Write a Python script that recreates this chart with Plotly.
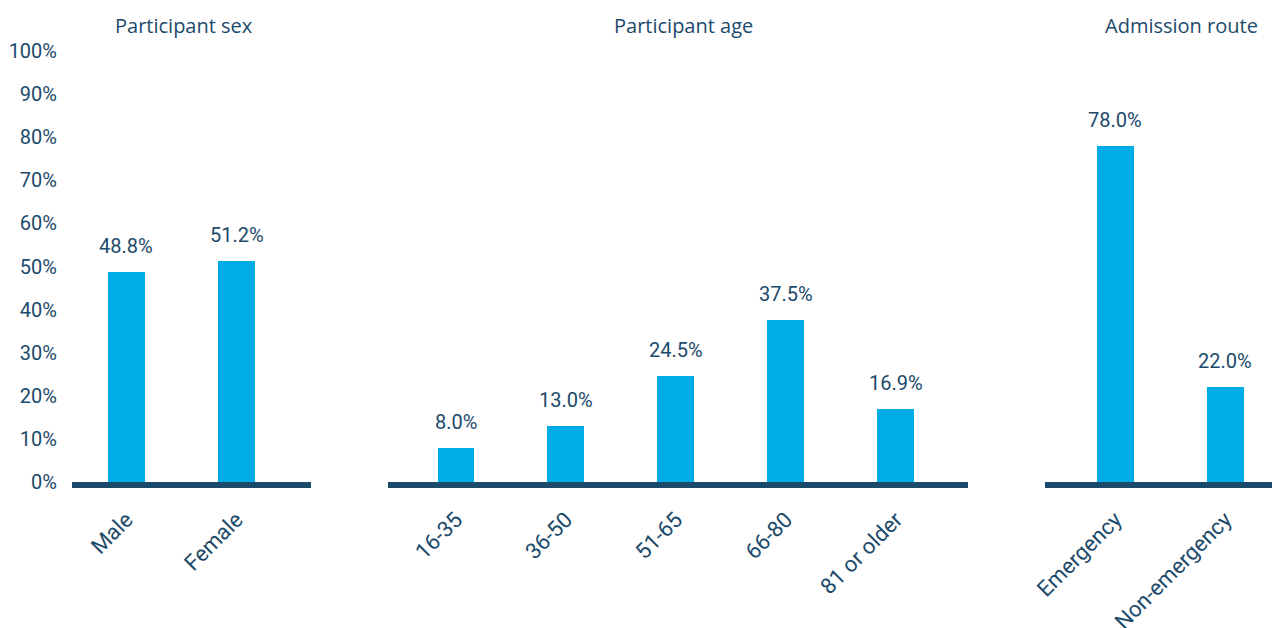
import plotly.graph_objects as go

# ---- data ----
sex_categories = ["Male", "Female"]
sex_values = [48.8, 51.2]

age_categories = ["16-35", "36-50", "51-65", "66-80", "81 or older"]
age_values = [8.0, 13.0, 24.5, 37.5, 16.9]

route_categories = ["Emergency", "Non-emergency"]
route_values = [78.0, 22.0]

panel_titles = ["Participant sex", "Participant age", "Admission route"]
y_tick_values = [0, 10, 20, 30, 40, 50, 60, 70, 80, 90, 100]
y_tick_labels = ["0%", "10%", "20%", "30%", "40%", "50%", "60%", "70%", "80%", "90%", "100%"]

# ---- styles ----
OFF = 8  # page body margin in the browser
W, H = 1280 - OFF, 628 - OFF
BAR = "#00ace6"
DARK = "#1c4a6b"
NUM_FONT = "Roboto, sans-serif"
CAT_FONT = "Roboto, sans-serif"
TITLE_FONT = "Open Sans, sans-serif"

# pixel positions on the 1280x628 page
panels = [
    (sex_categories, sex_values, (72, 311), (-0.495, 1.677)),
    (age_categories, age_values, (388, 968), (-0.618, 4.655)),
    (route_categories, route_values, (1045, 1280), (-0.64, 1.497)),
]
title_x = [184, 683, 1181]
title_y = 25
base_px, top_px = 482, 51


def fx(px):
    return (px - OFF) / W


def fy(py):
    return (H - (py - OFF)) / H


y_dom = [fy(base_px), fy(top_px)]

fig = go.Figure()
annotations = []
for i, (cats, vals, (x0, x1), rng) in enumerate(panels):
    n = "" if i == 0 else str(i + 1)
    fig.add_trace(go.Bar(
        x=cats, y=vals, width=0.336,
        marker=dict(color=BAR, line=dict(width=0)),
        xaxis="x" + n, yaxis="y" + n, showlegend=False, hoverinfo="x+y",
    ))
    fig.layout["xaxis" + n] = dict(
        domain=[fx(x0), min(fx(x1), 1.0)], range=list(rng), anchor="y" + n,
        showline=True, linewidth=6, linecolor=DARK, showgrid=False,
        zeroline=False, ticks="", tickangle=-45, ticklabelstandoff=10,
        automargin=False,
        tickfont=dict(family=CAT_FONT, size=22, color=DARK), fixedrange=True,
    )
    ydict = dict(domain=y_dom, range=[0, 100], anchor="x" + n, showgrid=False,
                 zeroline=False, showline=False, fixedrange=True, automargin=False)
    if i == 0:
        ydict.update(tickvals=y_tick_values, ticktext=y_tick_labels, ticks="",
                     ticklabelstandoff=14,
                     tickfont=dict(family=NUM_FONT, size=20, color=DARK))
    else:
        ydict.update(showticklabels=False)
    fig.layout["yaxis" + n] = ydict
    for c, v in zip(cats, vals):
        annotations.append(dict(
            x=c, y=v, xref="x" + n, yref="y" + n, text=f"{v:.1f}%",
            showarrow=False, yanchor="bottom", yshift=12,
            font=dict(family=NUM_FONT, size=20, color=DARK),
        ))
    annotations.append(dict(
        x=fx(title_x[i]), y=fy(title_y), xref="paper", yref="paper",
        text=panel_titles[i], showarrow=False, xanchor="center", yanchor="middle",
        font=dict(family=TITLE_FONT, size=20, color=DARK),
    ))

fig.update_layout(
    width=W, height=H, margin=dict(l=0, r=0, t=0, b=0, autoexpand=False),
    paper_bgcolor="white", plot_bgcolor="white",
    annotations=annotations, bargap=0,
)
fig.write_html("out.html", config={"displayModeBar": False})
